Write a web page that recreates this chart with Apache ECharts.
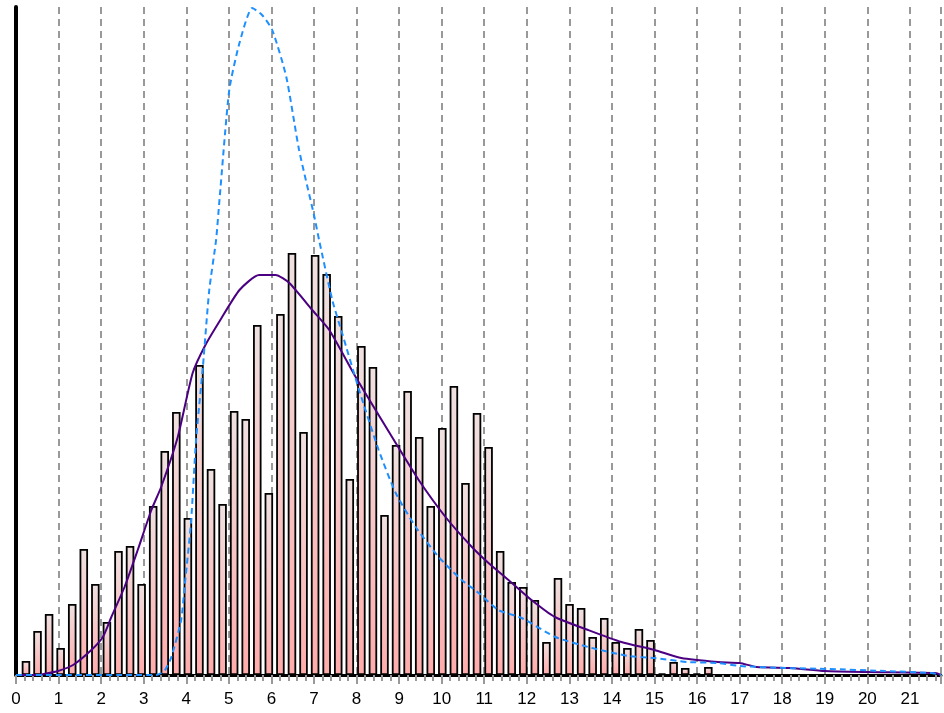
<!DOCTYPE html>
<html>
<head>
<meta charset="utf-8">
<script src="https://cdn.jsdelivr.net/npm/echarts@6/dist/echarts.min.js"></script>
<style>
html,body{margin:0;padding:0;background:#fff;}
#chart{width:944px;height:713px;}
</style>
</head>
<body>
<div id="chart"></div>
<script>
// Histogram bins: first bin centre and bin width (x units)
const firstBinCenter = 0.234;
const binWidth = 0.2717;
// Bar heights (counts, arbitrary units)
const barValues = [14,44,61,27,71,126,91,53,124,129,91,169,224,263,157,310,206,171,264,256,
  350,182,361,422,243,420,401,359,196,329,308,160,230,284,238,169,247,289,192,262,
  228,124,93,88,75,33,97,71,67,38,57,33,27,46,35,1.5,13,7,1.5,8];
// Density curve 1 (blue dashed)
const blueX = [0,3.3,3.5,3.65,3.88,3.96,4.11,4.23,4.39,4.54,4.7,4.78,5.01,5.25,5.55,5.78,6.02,6.35,6.65,7.0,7.12,7.43,7.66,8.06,8.52,8.92,9.39,9.93,10.47,10.87,11.33,11.88,12.67,13.44,14.38,15.0,15.78,16.5,17.0,18.05,19.1,20.4,21.5,21.73];
const blueY = [0,0,5,18,55,88,152,235,308,385,435,475,585,632,667,660,645,598,525,460,435,375,342,285,225,182,148,118,95,82,65,57,38,28,19,17,13,12,9,7,6,4,2,0];
// Density curve 2 (purple solid)
const purpleX = [0,0.5,0.76,0.99,1.34,1.77,2.04,2.24,2.55,2.86,3.18,3.41,3.8,4.15,4.45,4.8,5.25,5.71,6.1,6.42,6.96,7.36,7.98,8.92,9.46,10.09,10.71,11.1,11.57,12.11,12.66,13.44,14.22,15.0,15.63,16.49,17.0,17.4,18.2,19.0,20.0,21.6,21.73];
const purpleY = [0,0,2,4,10,25,38,58,88,125,165,188,238,302,330,355,385,400,400,392,365,345,298,232,195,158,128,112,95,75,58,45,33,25,17,13,12,8,7,4,3,2,0];
// Axis tick labels
const xTickLabels = ['0','1','2','3','4','5','6','7','8','9','10','11','12','13','14','15','16','17','18','19','20','21'];

const barData = barValues.map((v,i)=>[firstBinCenter + i*binWidth, v]);
const blueData = blueX.map((x,i)=>[x, blueY[i]]);
const purpleData = purpleX.map((x,i)=>[x, purpleY[i]]);

const chart = echarts.init(document.getElementById('chart'), null, {renderer:'canvas'});
chart.setOption({
  animation:false,
  backgroundColor:'#ffffff',
  grid:{left:16,right:0,top:7,bottom:38,containLabel:false},
  xAxis:{
    type:'value', min:0, max:21.73, interval:1,
    axisLine:{show:true,onZero:false,lineStyle:{color:'#000',width:3}},
    axisTick:{show:true,length:9,lineStyle:{color:'#999',width:2}},
    minorTick:{show:true,splitNumber:5,length:6,lineStyle:{color:'#999',width:2}},
    axisLabel:{color:'#000',fontSize:17,fontFamily:'Liberation Sans, Arial, sans-serif',margin:16,
      formatter:(v)=>{const i=Math.round(v);return (Math.abs(v-i)<1e-6 && xTickLabels[i]!==undefined)?xTickLabels[i]:'';}},
    splitLine:{show:true,lineStyle:{color:'#999',width:2,type:[7,5]}}
  },
  yAxis:{
    type:'value', min:0, max:668, offset:3,
    axisLine:{show:true,lineStyle:{color:'#000',width:4}},
    axisTick:{show:false}, axisLabel:{show:false}, splitLine:{show:false}
  },
  series:[
    {
      type:'bar', data:barData, barWidth:8.5, z:2,
      itemStyle:{
        color:new echarts.graphic.LinearGradient(0,0,0,1,[{offset:0,color:'#efe1e1'},{offset:1,color:'#ffabab'}]),
        borderColor:'#000', borderWidth:1.8
      }
    },
    {
      type:'line', data:purpleData, showSymbol:false, symbol:'none', z:4, smooth:0.2,
      lineStyle:{color:'#4b0082',width:2}
    },
    {
      type:'line', data:blueData, showSymbol:false, symbol:'none', z:5, smooth:0.2,
      lineStyle:{color:'#1e8fff',width:2,type:[6,4]}
    }
  ]
});
</script>
</body>
</html>
